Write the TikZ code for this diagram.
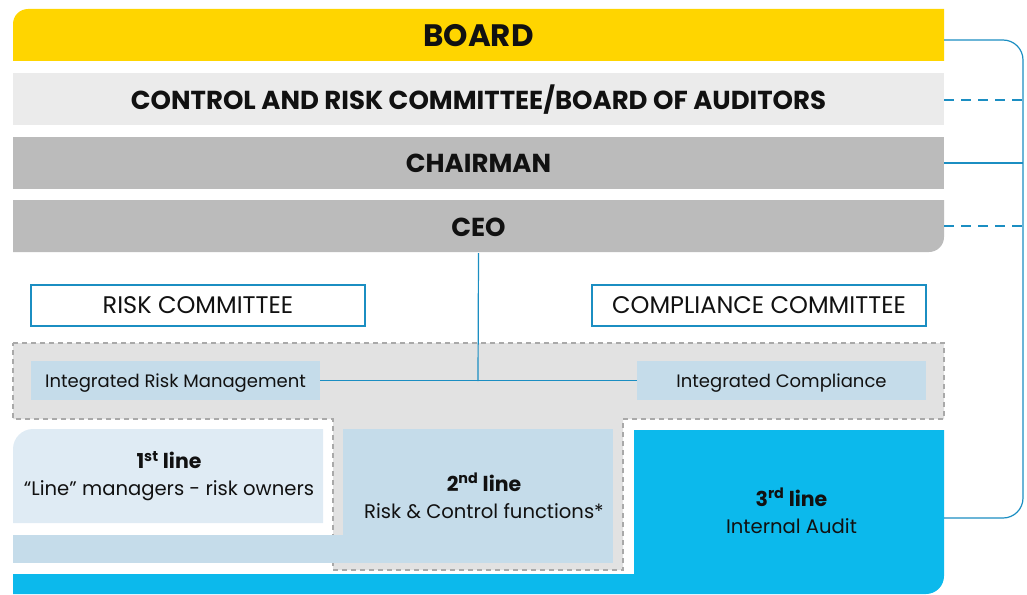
\documentclass[tikz,border=0pt]{standalone}
\usepackage{fontspec}
\setmainfont{Poppins}
\definecolor{boardyellow}{HTML}{FFD500}
\definecolor{ctrlgray}{HTML}{EBEBEB}
\definecolor{midgray}{HTML}{BBBBBB}
\definecolor{regiongray}{HTML}{E2E2E2}
\definecolor{dashgray}{HTML}{A9A9A9}
\definecolor{lightblue}{HTML}{C5DCEA}
\definecolor{paleblue}{HTML}{DFEBF4}
\definecolor{auditcyan}{HTML}{0CB9EC}
\definecolor{linkblue}{HTML}{1B8EC2}
\definecolor{txt}{HTML}{111111}
\newcommand{\ltitle}[2]{{\bfseries\fontsize{20.5}{24}\selectfont #1\textsuperscript{#2} line}}
\begin{document}
\begin{tikzpicture}[x=1pt,y=-1pt,
  bar/.style={minimum width=931pt, minimum height=52pt, inner sep=0pt, text=txt, font=\bfseries\fontsize{26}{29}\selectfont},
  committee/.style={draw=linkblue, line width=1.2pt, fill=white, minimum width=334pt, minimum height=41pt, inner sep=0pt, text=txt, font=\fontsize{24}{27}\selectfont},
  integ/.style={fill=lightblue, minimum width=289pt, minimum height=39pt, inner sep=0pt, text height=16pt, text depth=2.4pt, text=txt, font=\fontsize{18}{20}\selectfont},
  linetext/.style={align=center, text=txt, font=\fontsize{19.6}{27}\selectfont},
  conn/.style={draw=linkblue, line width=1.2pt},
  dconn/.style={conn, dash pattern=on 10pt off 7pt},
  region/.style={fill=regiongray, draw=dashgray, line width=1.8pt, dash pattern=on 5pt off 4pt}
]
\useasboundingbox (0,0) rectangle (1027,594);

% ---------- backgrounds ----------
\fill[boardyellow] (944,9) -- (28,9) arc (270:180:15) -- (13,61) -- (944,61) -- cycle;
\fill[ctrlgray] (13,73) rectangle (944,125);
\fill[midgray] (13,137) rectangle (944,189);
\fill[midgray] (13,200) -- (944,200) -- (944,237) arc (0:90:15) -- (13,252) -- cycle;

\path[region] (13,343) -- (944,343) -- (944,419) -- (623,419) -- (623,570) -- (333,570) -- (333,419) -- (13,419) -- cycle;

\fill[paleblue] (323,429) -- (33,429) arc (270:180:20) -- (13,523) -- (323,523) -- cycle;
\fill[lightblue] (13,535) rectangle (344,563);
\fill[lightblue] (343,429) rectangle (613,563);
\fill[auditcyan] (13,574) -- (634,574) -- (634,430) -- (944,430) -- (944,576) arc (0:90:18) -- (13,594) -- cycle;

% ---------- nodes ----------
\node[bar, font=\bfseries\fontsize{31}{34}\selectfont] (board) at (478.5,35.5) {BOARD};
\node[bar] (ctrl) at (478.5,100) {CONTROL AND RISK COMMITTEE/BOARD OF AUDITORS};
\node[bar] (chair) at (478.5,163.5) {CHAIRMAN};
\node[bar] (ceo) at (478.5,227) {CEO};

\node[committee] (riskc) at (198,305.5) {\raisebox{-1pt}{RISK COMMITTEE}};
\node[committee] (compc) at (759,305.5) {\raisebox{-1pt}{COMPLIANCE COMMITTEE}};

\node[integ] (irm) at (175.5,380.5) {Integrated Risk Management};
\node[integ] (ic) at (781.5,380.5) {Integrated Compliance};

\node[linetext] (l1) at (169,476) {\ltitle{1}{st}\\“Line” managers - risk owners};
\node[linetext] (l2) at (484,496) {\ltitle{2}{nd}\\Risk \& Control functions*};
\node[linetext] (l3) at (791.5,511) {\ltitle{3}{rd}\\Internal Audit};

% ---------- connectors ----------
\coordinate (boardout) at (944,40);
\coordinate (auditout) at (944,518);
\coordinate (railtop) at (1023,40);
\coordinate (junction) at (478,381);

\draw[conn, rounded corners=20pt] (boardout) -- (railtop) -- (1023,518) -- (auditout);
\draw[dconn] (944,100) -- (1023,100);
\draw[conn] (944,163) -- (1023,163);
\draw[dconn] (944,226) -- (1023,226);

\draw[conn] (ceo.south) -- (junction);
\draw[conn] (irm.east) -- (ic.west);
\end{tikzpicture}
\end{document}
